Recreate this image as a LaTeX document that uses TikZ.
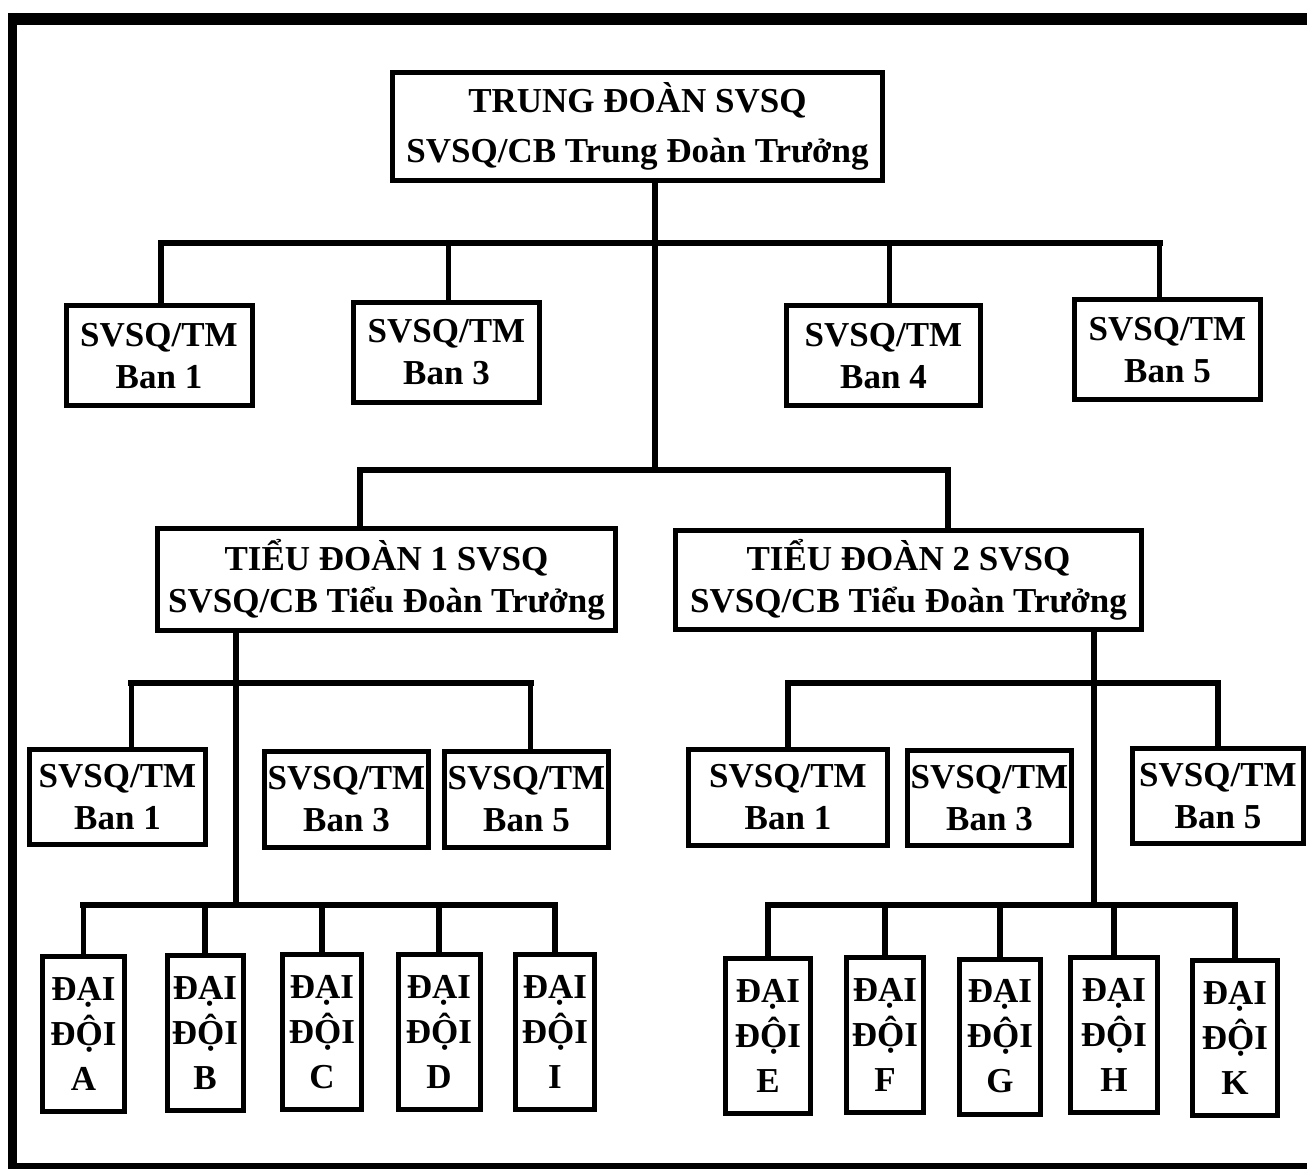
\documentclass[tikz,border=0pt]{standalone}
\usepackage{fontspec}
\setmainfont{Liberation Serif}
\usetikzlibrary{positioning}

\begin{document}
\begin{tikzpicture}[x=0.5pt,y=-0.5pt,every node/.style={font=\fontsize{17.5}{21}\selectfont\bfseries},
    unit/.style={draw,line width=2.5pt,inner sep=0pt,align=center},
    hq/.style={unit,minimum width=245pt,minimum height=54pt,font=\fontsize{17.5}{25}\selectfont\bfseries},
    bn/.style={unit,minimum width=231pt,minimum height=51pt},
    staff/.style={unit,minimum width=93pt,minimum height=50pt},
    sub/.style={unit,minimum width=82pt,minimum height=47.5pt},
    coy/.style={unit,minimum width=41pt,minimum height=77.5pt,font=\fontsize{17.5}{22.5}\selectfont\bfseries},
    conn/.style={line width=2.6pt},
    bus/.style={line width=3.4pt,line cap=rect}]
  \useasboundingbox (0,0) rectangle (1307,1170);
  % ---- frame ----
  \draw[line width=6pt] (12,19) -- (1307,19);
  \draw[line width=4.5pt] (12,13) -- (12,1169);
  \draw[line width=3pt] (12,1166) -- (1307,1166);
  % ---- regiment ----
  \node[hq] (top) at (637.5,126.5) {TRUNG ĐOÀN SVSQ\\SVSQ/CB Trung Đoàn Trưởng};
  \node[staff] (ban1) at (159,356)    {SVSQ/TM\\Ban 1};
  \node[staff] (ban3) at (446.5,352.5) {SVSQ/TM\\Ban 3};
  \node[staff,minimum width=97pt] (ban4) at (883.5,356) {SVSQ/TM\\Ban 4};
  \node[staff] (ban5) at (1167.5,350) {SVSQ/TM\\Ban 5};
  \coordinate (busA) at (655,243);
  \coordinate (busB) at (655,470);
  \draw[conn] (top.south -| busA) -- (busB);
  \draw[bus] ([xshift=1pt]ban1.north |- busA) -- ([xshift=-4pt]ban5.north |- busA);
  \draw[conn] ([xshift=1pt]ban1.north) -- ([xshift=1pt]ban1.north |- busA);
  \draw[conn] ([xshift=1pt]ban3.north) -- ([xshift=1pt]ban3.north |- busA);
  \draw[conn] ([xshift=3pt]ban4.north) -- ([xshift=3pt]ban4.north |- busA);
  \draw[conn] ([xshift=-4pt]ban5.north) -- ([xshift=-4pt]ban5.north |- busA);
  % ---- battalions ----
  \node[bn,minimum width=229pt] (td1) at (386.5,580) {TIỂU ĐOÀN 1 SVSQ\\SVSQ/CB Tiểu Đoàn Trưởng};
  \node[bn,minimum width=233pt,minimum height=49.5pt] (td2) at (908.5,580) {TIỂU ĐOÀN 2 SVSQ\\SVSQ/CB Tiểu Đoàn Trưởng};
  \coordinate (d1) at (360,470);
  \coordinate (d2) at (948,470);
  \draw[bus] (d1) -- (d2);
  \draw[conn] (d1) -- (d1 |- td1.north);
  \draw[conn] (d2) -- (d2 |- td2.north);
  % ---- LEFT: battalion 1 ----
  \node[sub,minimum width=88pt] (la1) at (117.5,797) {SVSQ/TM\\Ban 1};
  \node[sub] (la3) at (346.5,799.5) {SVSQ/TM\\Ban 3};
  \node[sub] (la5) at (526.5,799.5) {SVSQ/TM\\Ban 5};
  \coordinate (busC) at (236,683);
  \coordinate (busD) at (236,905);
  \draw[conn] (td1.south -| busD) -- (busD);
  \draw[bus] ([xshift=7pt]la1.north |- busC) -- ([xshift=2pt]la5.north |- busC);
  \draw[conn] ([xshift=7pt]la1.north) -- ([xshift=7pt]la1.north |- busC);
  \draw[conn] ([xshift=2pt]la5.north) -- ([xshift=2pt]la5.north |- busC);
  \node[coy] (dA) at (83.5,1034) {ĐẠI\\ĐỘI\\A};
  \node[coy,minimum width=38pt] (dB) at (205,1033) {ĐẠI\\ĐỘI\\B};
  \node[coy,minimum width=39.5pt] (dC) at (322,1032) {ĐẠI\\ĐỘI\\C};
  \node[coy] (dD) at (439,1032) {ĐẠI\\ĐỘI\\D};
  \node[coy,minimum width=39.5pt] (dI) at (555,1032) {ĐẠI\\ĐỘI\\I};
  \draw[bus] (dA.north |- busD) -- (dI.north |- busD);
  \draw[conn] (dA.north) -- (dA.north |- busD);
  \draw[conn] (dB.north) -- (dB.north |- busD);
  \draw[conn] (dC.north) -- (dC.north |- busD);
  \draw[conn] (dD.north) -- (dD.north |- busD);
  \draw[conn] (dI.north) -- (dI.north |- busD);
  % ---- RIGHT: battalion 2 ----
  \node[sub,minimum width=99.5pt] (ra1) at (788,797.5) {SVSQ/TM\\Ban 1};
  \node[sub] (ra3) at (989.5,798) {SVSQ/TM\\Ban 3};
  \node[sub,minimum width=85.5pt] (ra5) at (1218,796) {SVSQ/TM\\Ban 5};
  \coordinate (busE) at (1094,683);
  \coordinate (busF) at (1094,905);
  \draw[conn] (td2.south -| busF) -- (busF);
  \draw[bus] (ra1.north |- busE) -- (ra5.north |- busE);
  \draw[conn] (ra1.north) -- (ra1.north |- busE);
  \draw[conn] (ra5.north) -- (ra5.north |- busE);
  \node[coy,minimum width=42.5pt] (dE) at (768,1036) {ĐẠI\\ĐỘI\\E};
  \node[coy,minimum width=38.5pt] (dF) at (885,1034.5) {ĐẠI\\ĐỘI\\F};
  \node[coy,minimum width=40.5pt] (dG) at (1000,1036.5) {ĐẠI\\ĐỘI\\G};
  \node[coy,minimum width=43.5pt] (dH) at (1114,1034.5) {ĐẠI\\ĐỘI\\H};
  \node[coy,minimum width=42.5pt] (dK) at (1235,1037.5) {ĐẠI\\ĐỘI\\K};
  \draw[bus] (dE.north |- busF) -- (dK.north |- busF);
  \draw[conn] (dE.north) -- (dE.north |- busF);
  \draw[conn] (dF.north) -- (dF.north |- busF);
  \draw[conn] (dG.north) -- (dG.north |- busF);
  \draw[conn] (dH.north) -- (dH.north |- busF);
  \draw[conn] (dK.north) -- (dK.north |- busF);
\end{tikzpicture}
\end{document}
